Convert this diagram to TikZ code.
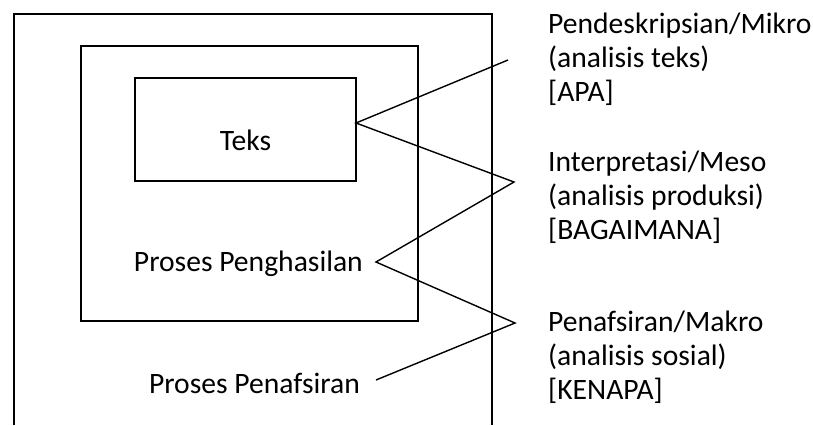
\documentclass[tikz,border=0pt]{standalone}
\usepackage{fontspec}
\setmainfont{Carlito}
\begin{document}
\begin{tikzpicture}[x=1bp,y=-1bp,
  line/.style={line width=1.4bp,line join=miter},
  lbl/.style={inner sep=0pt,font=\fontsize{29.6bp}{34bp}\selectfont},
  side/.style={lbl,align=left,anchor=west}]
\useasboundingbox (0,0) rectangle (813,425);
% outer frame (open at bottom)
\draw[line] (14,425) -- (14,14) -- (492,14) -- (492,425);
% middle frame
\draw[line] (81,46) rectangle (418,321);
% inner frame
\draw[line] (135,78) rectangle (356,181);
% texts
\node[lbl] (teks) at (245.5,140) {Teks};
\node[lbl,anchor=east] (peng) at (363,264) {Proses Penghasilan};
\node[lbl,anchor=east] (pena) at (360,383) {Proses Penafsiran};
\node[side] (mikro) at (548,59) {Pendeskripsian/Mikro\\(analisis teks)\\{[APA]}};
\node[side] (meso) at (548,197) {Interpretasi/Meso\\(analisis produksi)\\{[BAGAIMANA]}};
\node[side] (makro) at (548,357) {Penafsiran/Makro\\(analisis sosial)\\{[KENAPA]}};
% connector points
\coordinate (a) at (356,123);
\coordinate (p1) at (508,60);
\coordinate (b) at (514,182);
\coordinate (c) at (376,262);
\coordinate (d) at (515,323);
\coordinate (e) at (376,380);
\draw[line] (p1) -- (a) -- (b) -- (c) -- (d) -- (e);
\end{tikzpicture}
\end{document}
